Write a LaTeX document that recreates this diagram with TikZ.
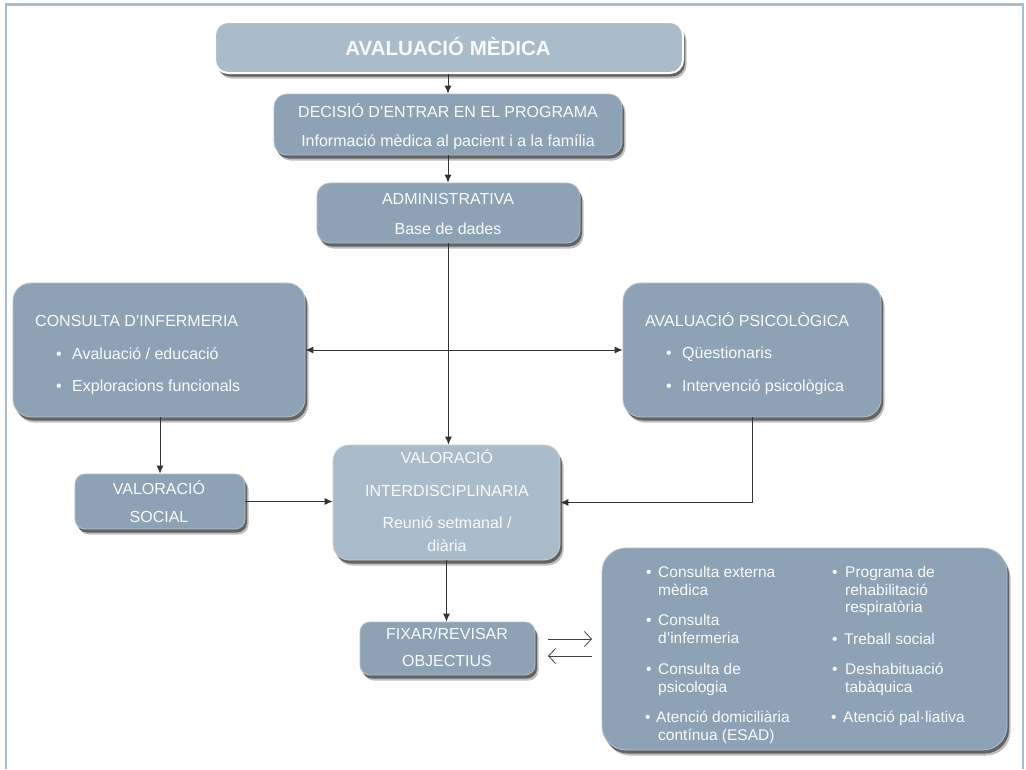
\documentclass[tikz,border=0pt]{standalone}
\usepackage{fontspec}
\setmainfont{Liberation Sans}
\usetikzlibrary{arrows.meta,shadows,calc}
\definecolor{boxdark}{RGB}{141,163,181}
\definecolor{boxlight}{RGB}{170,188,201}
\definecolor{framec}{RGB}{168,188,208}
\definecolor{txtc}{RGB}{248,250,252}
\tikzset{
  box/.style={rectangle, rounded corners=13pt, fill=boxdark, draw=white!30!boxdark, line width=0.8pt,
    inner sep=0pt,
    drop shadow={shadow xshift=3.5pt, shadow yshift=-5.5pt, opacity=0.25, fill=black},
    drop shadow={shadow xshift=2pt, shadow yshift=-3.5pt, opacity=0.6, fill=black!85}},
  lightbox/.style={box, fill=boxlight, draw=white!30!boxlight},
  txt/.style={text=txtc, inner sep=0pt, font=\fontsize{16}{19}\selectfont, anchor=base},
  ltxt/.style={txt, anchor=base west},
  btxt/.style={text=txtc, inner sep=0pt, font=\fontsize{15.5}{18}\selectfont, anchor=base west},
  conn/.style={draw=black!80, line width=0.9pt, -{Latex[length=8pt,width=7pt]}},
  harp/.style={draw=black!75, line width=0.8pt, -{Straight Barb[length=7pt,width=15pt]}}
}
\begin{document}
\begin{tikzpicture}[x=1pt,y=-1pt]
\useasboundingbox (0,0) rectangle (1026,769);
\fill[white] (0,0) rectangle (1026,769);
\draw[framec, line width=2.5pt] (6,769) -- (6,4.5) -- (1023,4.5) -- (1023,769);

% boxes
\node[lightbox, draw=white, line width=2pt, minimum width=468pt, minimum height=51pt] (title) at (449,47.5) {};
\node[box, minimum width=348pt, minimum height=61pt] (dec) at (448,124.5) {};
\node[box, minimum width=263pt, minimum height=60pt] (adm) at (448.5,213) {};
\node[box, rounded corners=18pt, minimum width=292pt, minimum height=134pt] (inf) at (159,350) {};
\node[box, rounded corners=18pt, minimum width=258pt, minimum height=134pt] (psy) at (752,350) {};
\node[lightbox, rounded corners=16pt, minimum width=227pt, minimum height=115pt] (inter) at (446.5,502.5) {};
\node[box, rounded corners=10pt, minimum width=170pt, minimum height=55pt] (soc) at (160,501.5) {};
\node[box, rounded corners=10pt, minimum width=175pt, minimum height=53pt] (fix) at (447.5,648.5) {};
\node[box, rounded corners=24pt, minimum width=405pt, minimum height=202pt] (big) at (804.5,649) {};

% texts
\node[txt, font=\bfseries\fontsize{20.5}{24}\selectfont] (t0) at (448,55.5) {AVALUACIÓ MÈDICA};
\node[txt] (t1) at (448,117) {DECISIÓ D’ENTRAR EN EL PROGRAMA};
\node[txt] (t2) at (448,146) {Informació mèdica al pacient i a la família};
\node[txt] (t3) at (448,204) {ADMINISTRATIVA};
\node[txt] (t4) at (448,234) {Base de dades};

\node[ltxt] (t5) at (35,326) {CONSULTA D’INFERMERIA};
\node[ltxt] (t6) at (56,359) {\textbullet};
\node[ltxt] (t7) at (72,359) {Avaluació / educació};
\node[ltxt] (t8) at (56,391) {\textbullet};
\node[ltxt] (t9) at (72,391) {Exploracions funcionals};

\node[ltxt] (t10) at (645,326) {AVALUACIÓ PSICOLÒGICA};
\node[ltxt] (t11) at (666,358) {\textbullet};
\node[ltxt] (t12) at (682,358) {Qüestionaris};
\node[ltxt] (t13) at (666,391) {\textbullet};
\node[ltxt] (t14) at (682,391) {Intervenció psicològica};

\node[txt] (t15) at (447,463) {VALORACIÓ};
\node[txt] (t16) at (447,496) {INTERDISCIPLINARIA};
\node[txt] (t17) at (447,528) {Reunió setmanal /};
\node[txt] (t18) at (447,551) {diària};

\node[txt] (t19) at (159,494) {VALORACIÓ};
\node[txt] (t20) at (159,522) {SOCIAL};

\node[txt] (t21) at (447,639) {FIXAR/REVISAR};
\node[txt] (t22) at (447,666) {OBJECTIUS};

% big box left column
\node[btxt] (b1) at (646,577) {\textbullet};
\node[btxt] (b2) at (658,577) {Consulta externa};
\node[btxt] (b3) at (658,595) {mèdica};
\node[btxt] (b4) at (646,625) {\textbullet};
\node[btxt] (b5) at (658,625) {Consulta};
\node[btxt] (b6) at (658,643) {d’infermeria};
\node[btxt] (b7) at (646,674) {\textbullet};
\node[btxt] (b8) at (658,674) {Consulta de};
\node[btxt] (b9) at (658,692) {psicologia};
\node[btxt] (b10) at (645,722) {\textbullet};
\node[btxt] (b11) at (656,722) {Atenció domiciliària};
\node[btxt] (b12) at (658,740) {contínua (ESAD)};
% right column
\node[btxt] (c1) at (832,577) {\textbullet};
\node[btxt] (c2) at (845,577) {Programa de};
\node[btxt] (c3) at (845,595) {rehabilitació};
\node[btxt] (c4) at (845,612) {respiratòria};
\node[btxt] (c5) at (832,644) {\textbullet};
\node[btxt] (c6) at (844,644) {Treball social};
\node[btxt] (c7) at (832,674) {\textbullet};
\node[btxt] (c8) at (845,674) {Deshabituació};
\node[btxt] (c9) at (845,692) {tabàquica};
\node[btxt] (c10) at (831,722) {\textbullet};
\node[btxt] (c11) at (843,722) {Atenció pal·liativa};

% connectors
\draw[conn] (dec.north |- title.south) -- (dec.north);
\draw[conn] (dec.south) -- (dec.south |- adm.north);
\draw[conn] (adm.south) -- (adm.south |- inter.north);
\draw[conn, {Latex[length=8pt,width=7pt]}-{Latex[length=8pt,width=7pt]}] (inf.east) -- (psy.west);
\draw[conn] (inf.south -| soc.north) -- (soc.north);
\draw[conn] (soc.east) -- (soc.east -| inter.west);
\draw[conn] (psy.south) |- (inter.east);
\draw[conn] (inter.south) -- (inter.south |- fix.north);

\coordinate (r1) at (548,639);
\coordinate (r2) at (592,639);
\coordinate (l1) at (592,656);
\coordinate (l2) at (548,656);
\draw[harp] (r1) -- (r2);
\draw[harp] (l1) -- (l2);
\end{tikzpicture}
\end{document}
